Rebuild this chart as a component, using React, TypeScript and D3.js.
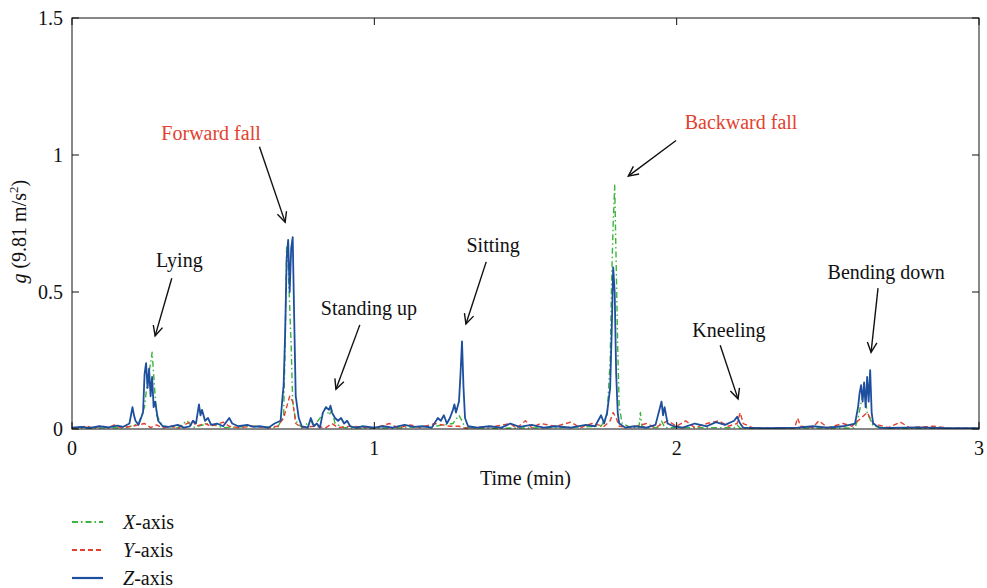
import React from 'react';
import * as d3 from 'd3';

// acceleration magnitude per axis, [time (min), g]
const xAxisSeries: [number, number][] = [
  [0, 0.002], [0.1, 0.004], [0.18, 0.005], [0.22, 0.02], [0.24, 0.08], [0.25, 0.18], [0.26, 0.24], [0.265, 0.28],
  [0.27, 0.2], [0.275, 0.12], [0.28, 0.05], [0.3, 0.01], [0.35, 0.005], [0.38, 0.03], [0.4, 0.005], [0.45, 0.02],
  [0.5, 0.005], [0.6, 0.01], [0.68, 0.005], [0.7, 0.05], [0.705, 0.3], [0.71, 0.67], [0.715, 0.6], [0.72, 0.45],
  [0.725, 0.3], [0.73, 0.1], [0.74, 0.03], [0.76, 0.005], [0.79, 0.03], [0.8, 0.01], [0.82, 0.04], [0.83, 0.06],
  [0.84, 0.08], [0.85, 0.05], [0.86, 0.07], [0.87, 0.02], [0.9, 0.005], [1.0, 0.003], [1.1, 0.005], [1.2, 0.01],
  [1.26, 0.02], [1.28, 0.05], [1.29, 0.03], [1.3, 0.005], [1.4, 0.003], [1.6, 0.005], [1.75, 0.01], [1.77, 0.05],
  [1.78, 0.25], [1.785, 0.55], [1.79, 0.75], [1.795, 0.89], [1.8, 0.6], [1.805, 0.3], [1.81, 0.08], [1.82, 0.02],
  [1.85, 0.005], [1.875, 0.005], [1.88, 0.06], [1.885, 0.01], [1.9, 0.005], [1.94, 0.005], [1.95, 0.03],
  [1.96, 0.005], [2.0, 0.005], [2.19, 0.005], [2.2, 0.015], [2.21, 0.003], [2.3, 0.003], [2.59, 0.004],
  [2.6, 0.04], [2.62, 0.15], [2.63, 0.06], [2.65, 0.01], [2.7, 0.003], [3, 0.002],
];

const yAxisSeries: [number, number][] = [
  [0, 0.003], [0.05, 0.01], [0.07, 0.003], [0.1, 0.012], [0.12, 0.004], [0.14, 0.015], [0.16, 0.005], [0.2, 0.01],
  [0.24, 0.02], [0.26, 0.005], [0.28, 0.015], [0.3, 0.004], [0.33, 0.01], [0.35, 0.003], [0.38, 0.02], [0.4, 0.03],
  [0.41, 0.01], [0.44, 0.02], [0.46, 0.01], [0.5, 0.025], [0.52, 0.01], [0.55, 0.005], [0.6, 0.01], [0.65, 0.005],
  [0.68, 0.01], [0.7, 0.04], [0.71, 0.08], [0.72, 0.12], [0.73, 0.1], [0.735, 0.06], [0.74, 0.02], [0.76, 0.005],
  [0.8, 0.01], [0.84, 0.005], [0.86, 0.02], [0.88, 0.005], [0.92, 0.01], [1.0, 0.004], [1.05, 0.02], [1.08, 0.004],
  [1.12, 0.015], [1.15, 0.005], [1.2, 0.02], [1.25, 0.01], [1.28, 0.01], [1.3, 0.003], [1.4, 0.01], [1.45, 0.02],
  [1.47, 0.003], [1.5, 0.03], [1.52, 0.005], [1.55, 0.02], [1.6, 0.01], [1.65, 0.025], [1.68, 0.005], [1.72, 0.02],
  [1.76, 0.01], [1.78, 0.03], [1.79, 0.06], [1.8, 0.04], [1.81, 0.01], [1.85, 0.005], [1.9, 0.02], [1.93, 0.005],
  [1.97, 0.03], [2.0, 0.01], [2.03, 0.03], [2.06, 0.005], [2.1, 0.02], [2.14, 0.03], [2.17, 0.01], [2.2, 0.02],
  [2.21, 0.06], [2.22, 0.02], [2.25, 0.005], [2.3, 0.003], [2.39, 0.004], [2.4, 0.04], [2.41, 0.01], [2.45, 0.005],
  [2.47, 0.03], [2.5, 0.005], [2.55, 0.02], [2.58, 0.01], [2.6, 0.03], [2.63, 0.06], [2.65, 0.02], [2.7, 0.005],
  [2.74, 0.025], [2.77, 0.005], [2.85, 0.01], [2.9, 0.003], [3, 0.003],
];

const zAxisSeries: [number, number][] = [
  [0, 0.005], [0.03, 0.008], [0.06, 0.004], [0.09, 0.01], [0.12, 0.006], [0.15, 0.012], [0.17, 0.008], [0.19, 0.02],
  [0.2, 0.08], [0.205, 0.05], [0.21, 0.03], [0.22, 0.015], [0.235, 0.06], [0.24, 0.2], [0.245, 0.24], [0.25, 0.15],
  [0.255, 0.22], [0.26, 0.12], [0.265, 0.19], [0.27, 0.08], [0.275, 0.1], [0.285, 0.03], [0.3, 0.01], [0.32, 0.008],
  [0.35, 0.015], [0.37, 0.005], [0.39, 0.01], [0.4, 0.03], [0.41, 0.02], [0.42, 0.09], [0.425, 0.05], [0.43, 0.07],
  [0.44, 0.03], [0.45, 0.04], [0.46, 0.015], [0.48, 0.02], [0.5, 0.01], [0.52, 0.04], [0.53, 0.02], [0.55, 0.01],
  [0.58, 0.015], [0.6, 0.008], [0.62, 0.01], [0.65, 0.005], [0.67, 0.02], [0.69, 0.03], [0.695, 0.1], [0.7, 0.16],
  [0.705, 0.35], [0.71, 0.62], [0.715, 0.69], [0.72, 0.5], [0.725, 0.66], [0.73, 0.7], [0.735, 0.4], [0.74, 0.12],
  [0.75, 0.04], [0.76, 0.01], [0.78, 0.005], [0.79, 0.04], [0.8, 0.01], [0.81, 0.02], [0.82, 0.005], [0.83, 0.06],
  [0.84, 0.08], [0.85, 0.07], [0.855, 0.085], [0.86, 0.06], [0.87, 0.04], [0.88, 0.03], [0.89, 0.04], [0.9, 0.02],
  [0.91, 0.03], [0.92, 0.01], [0.94, 0.005], [0.96, 0.01], [1.0, 0.005], [1.03, 0.01], [1.06, 0.005], [1.1, 0.015],
  [1.13, 0.008], [1.16, 0.01], [1.19, 0.005], [1.21, 0.04], [1.22, 0.03], [1.23, 0.05], [1.24, 0.02], [1.25, 0.04],
  [1.26, 0.07], [1.265, 0.09], [1.27, 0.06], [1.28, 0.1], [1.285, 0.2], [1.29, 0.32], [1.295, 0.15], [1.3, 0.04],
  [1.31, 0.01], [1.34, 0.005], [1.38, 0.01], [1.42, 0.005], [1.45, 0.02], [1.48, 0.008], [1.52, 0.015], [1.56, 0.005],
  [1.6, 0.01], [1.65, 0.005], [1.7, 0.015], [1.73, 0.01], [1.75, 0.05], [1.76, 0.02], [1.77, 0.06], [1.78, 0.15],
  [1.785, 0.35], [1.79, 0.59], [1.795, 0.5], [1.8, 0.2], [1.805, 0.06], [1.81, 0.02], [1.83, 0.005], [1.86, 0.01],
  [1.9, 0.005], [1.93, 0.015], [1.95, 0.1], [1.955, 0.05], [1.96, 0.08], [1.97, 0.02], [1.99, 0.01], [2.02, 0.005],
  [2.06, 0.02], [2.1, 0.01], [2.13, 0.025], [2.16, 0.015], [2.19, 0.03], [2.2, 0.045], [2.21, 0.02], [2.22, 0.005],
  [2.3, 0.003], [2.4, 0.005], [2.45, 0.01], [2.5, 0.005], [2.55, 0.01], [2.59, 0.02], [2.6, 0.08], [2.605, 0.13],
  [2.61, 0.16], [2.615, 0.1], [2.62, 0.17], [2.625, 0.08], [2.63, 0.19], [2.635, 0.1], [2.64, 0.215], [2.645, 0.06],
  [2.65, 0.02], [2.67, 0.005], [2.7, 0.004], [2.8, 0.006], [2.9, 0.003], [3, 0.003],
];

const xTicks = [0, 1, 2, 3];
const yTicks = [0, 0.5, 1, 1.5];
const yTickLabels = ['0', '0.5', '1', '1.5'];

// label, text position (data), arrow tail and tip (data), red?
const events = [
  { label: 'Lying', tx: 0.355, ty: 0.615, fx: 0.33, fy: 0.55, ax: 0.275, ay: 0.34, red: false },
  { label: 'Forward fall', tx: 0.46, ty: 1.08, fx: 0.62, fy: 1.03, ax: 0.705, ay: 0.755, red: true },
  { label: 'Standing up', tx: 0.982, ty: 0.44, fx: 0.952, fy: 0.38, ax: 0.873, ay: 0.145, red: false },
  { label: 'Sitting', tx: 1.393, ty: 0.67, fx: 1.37, fy: 0.61, ax: 1.303, ay: 0.383, red: false },
  { label: 'Backward fall', tx: 2.213, ty: 1.12, fx: 1.998, fy: 1.053, ax: 1.84, ay: 0.923, red: true },
  { label: 'Kneeling', tx: 2.173, ty: 0.36, fx: 2.144, fy: 0.306, ax: 2.203, ay: 0.11, red: false },
  { label: 'Bending down', tx: 2.693, ty: 0.572, fx: 2.666, fy: 0.514, ax: 2.643, ay: 0.28, red: false },
];

const GREEN = '#3cb53c';
const RED = '#e3412f';
const BLUE = '#1d4f9e';
const FONT = '"Liberation Serif", "DejaVu Serif", serif';
const FS = 20;

const margin = { left: 72, right: 8, top: 18, bottom: 159 };
const W = 987;
const H = 588;

function Arrow({ x1, y1, x2, y2 }: { x1: number; y1: number; x2: number; y2: number }) {
  const ang = Math.atan2(y2 - y1, x2 - x1);
  const len = 11;
  const spread = 0.45;
  const hx1 = x2 - len * Math.cos(ang - spread);
  const hy1 = y2 - len * Math.sin(ang - spread);
  const hx2 = x2 - len * Math.cos(ang + spread);
  const hy2 = y2 - len * Math.sin(ang + spread);
  return (
    <g stroke="#111" strokeWidth={1.4} fill="none">
      <line x1={x1} y1={y1} x2={x2} y2={y2} />
      <polyline points={`${hx1},${hy1} ${x2},${y2} ${hx2},${hy2}`} />
    </g>
  );
}

export default function App() {
  const x = d3.scaleLinear().domain([0, 3]).range([margin.left, W - margin.right]);
  const y = d3.scaleLinear().domain([0, 1.5]).range([H - margin.bottom, margin.top]);
  const line = d3.line<[number, number]>().x(d => x(d[0])).y(d => y(d[1]));

  const x0 = x(0), x1 = x(3), y0 = y(0), y1 = y(1.5);
  const tick = 7;

  const series = [
    { data: xAxisSeries, color: GREEN, dash: '6,3,1.5,3', width: 1.4, name: 'X' },
    { data: yAxisSeries, color: RED, dash: '5,3', width: 1.4, name: 'Y' },
    { data: zAxisSeries, color: BLUE, dash: undefined, width: 1.8, name: 'Z' },
  ];

  return (
    <svg width={W} height={H} style={{ position: 'absolute', left: 0, top: 0, background: '#fff' }}
      fontFamily={FONT}>
      <defs>
        <clipPath id="plot">
          <rect x={x0} y={y1} width={x1 - x0} height={y0 - y1} />
        </clipPath>
      </defs>

      <g clipPath="url(#plot)">
        {series.map(s => (
          <path key={s.name} d={line(s.data) ?? ''} fill="none" stroke={s.color}
            strokeWidth={s.width} strokeDasharray={s.dash} strokeLinejoin="round" />
        ))}
      </g>

      <rect x={x0} y={y1} width={x1 - x0} height={y0 - y1} fill="none" stroke="#111" strokeWidth={1} />

      {xTicks.map(t => (
        <g key={'xt' + t}>
          <line x1={x(t)} x2={x(t)} y1={y0} y2={y0 - tick} stroke="#111" />
          <line x1={x(t)} x2={x(t)} y1={y1} y2={y1 + tick} stroke="#111" />
          <text x={x(t)} y={y0 + 26} textAnchor="middle" fontSize={FS} fill="#111">{t}</text>
        </g>
      ))}
      {yTicks.map((t, i) => (
        <g key={'yt' + t}>
          <line x1={x0} x2={x0 + tick} y1={y(t)} y2={y(t)} stroke="#111" />
          <line x1={x1} x2={x1 - tick} y1={y(t)} y2={y(t)} stroke="#111" />
          <text x={x0 - 9} y={y(t) + 7} textAnchor="end" fontSize={FS} fill="#111">{yTickLabels[i]}</text>
        </g>
      ))}

      <text x={(x0 + x1) / 2} y={y0 + 56} textAnchor="middle" fontSize={FS} fill="#111">Time (min)</text>
      <text transform={`translate(26, ${y(0.72)}) rotate(-90)`} textAnchor="middle" fontSize={FS} fill="#111">
        <tspan fontStyle="italic">g</tspan> (9.81 m/s<tspan fontSize={13} dy={-8}>2</tspan><tspan dy={8}>)</tspan>
      </text>

      {events.map(e => (
        <g key={e.label}>
          <text x={x(e.tx)} y={y(e.ty) + 7} textAnchor="middle" fontSize={FS} fill={e.red ? RED : '#111'}>{e.label}</text>
          <Arrow x1={x(e.fx)} y1={y(e.fy)} x2={x(e.ax)} y2={y(e.ay)} />
        </g>
      ))}

      {series.map((s, i) => {
        const ly = 522 + i * 28;
        return (
          <g key={'lg' + s.name}>
            <line x1={72} x2={103} y1={ly} y2={ly} stroke={s.color} strokeWidth={s.width + 0.4} strokeDasharray={s.dash} />
            <text x={123} y={ly + 7} fontSize={FS} fill="#111">
              <tspan fontStyle="italic">{s.name}</tspan>-axis
            </text>
          </g>
        );
      })}
    </svg>
  );
}
